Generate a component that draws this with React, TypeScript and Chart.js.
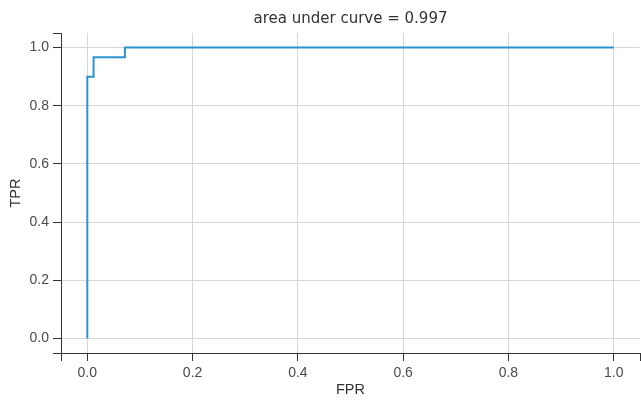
import React, { useEffect, useRef } from "react";
import { Chart, registerables } from "chart.js";

Chart.register(...registerables);

const fprValues = [0, 0, 0.0119, 0.0119, 0.0714, 0.0714, 1.0];
const tprValues = [0, 0.9, 0.9, 0.9667, 0.9667, 1.0, 1.0];
const xTickValues = [0, 0.2, 0.4, 0.6, 0.8, 1.0];
const yTickValues = [0, 0.2, 0.4, 0.6, 0.8, 1.0];
const axisMin = -0.05;
const axisMax = 1.05;
const titleText = "area under curve = 0.997";
const xTitle = "FPR";
const yTitle = "TPR";

const TITLE_FONT = "'DejaVu Sans', sans-serif";
const FONT = "'Liberation Sans', Arial, sans-serif";
const AXIS_COLOR = "#333333";
const GRID_COLOR = "#d6d6d6";
const TICK_LABEL_COLOR = "#4a4a4a";
const LINE_COLOR = "#2c91d0";

const isEnd = (v: number) => Math.abs(v - axisMin) < 1e-9 || Math.abs(v - axisMax) < 1e-9;

export default function App() {
  const canvasRef = useRef<HTMLCanvasElement | null>(null);

  useEffect(() => {
    document.body.style.margin = "0";
    const canvas = canvasRef.current;
    if (!canvas) return;
    const points = fprValues.map((x, i) => ({ x, y: tprValues[i] }));

    const makeScale = (tickVals: number[], isX: boolean) => ({
      type: "linear" as const,
      min: axisMin,
      max: axisMax,
      afterBuildTicks: (scale: any) => {
        scale.ticks = [axisMin, ...tickVals, axisMax].map((v) => ({ value: v }));
      },
      afterFit: (scale: any) => {
        if (isX) {
          scale.height = 47;
          scale.paddingLeft = 0;
          scale.paddingRight = 1;
        } else {
          scale.width = 61;
          scale.paddingTop = 0;
          scale.paddingBottom = 0;
        }
      },
      border: { display: true, color: AXIS_COLOR, width: 1 },
      grid: {
        color: (ctx: any) => (ctx.tick && isEnd(ctx.tick.value) ? "rgba(0,0,0,0)" : GRID_COLOR),
        tickColor: AXIS_COLOR,
        tickLength: 8,
        lineWidth: 1,
      },
      ticks: {
        autoSkip: false,
        maxRotation: 0,
        padding: 4,
        color: TICK_LABEL_COLOR,
        font: { family: FONT, size: 14 },
        callback: (v: any) => (isEnd(Number(v)) ? "" : Number(v).toFixed(1)),
      },
      title: {
        display: true,
        text: isX ? xTitle : yTitle,
        color: "#333333",
        font: { family: FONT, size: 14.5 },
        padding: isX ? { top: 0, bottom: 1 } : { top: 7, bottom: 0 },
      },
    });

    const chart = new Chart(canvas, {
      type: "line",
      data: {
        datasets: [
          {
            data: points,
            borderColor: LINE_COLOR,
            borderWidth: 2,
            pointRadius: 0,
            fill: false,
            tension: 0,
          },
        ],
      },
      options: {
        responsive: false,
        animation: false,
        maintainAspectRatio: false,
        layout: { padding: { left: 0, right: 1, top: 0, bottom: 0 } },
        plugins: {
          legend: { display: false },
          tooltip: { enabled: false },
          title: {
            display: true,
            text: titleText,
            fullSize: false,
            color: "#333333",
            font: { family: TITLE_FONT, size: 15, weight: "normal" },
            padding: { top: 10, bottom: 5 },
          },
        },
        scales: {
          x: makeScale(xTickValues, true),
          y: makeScale(yTickValues, false),
        },
      } as any,
    });
    return () => chart.destroy();
  }, []);

  return (
    <div style={{ width: 641, height: 400, position: "relative" }}>
      <canvas ref={canvasRef} width={641} height={400} style={{ display: "block" }} />
    </div>
  );
}
